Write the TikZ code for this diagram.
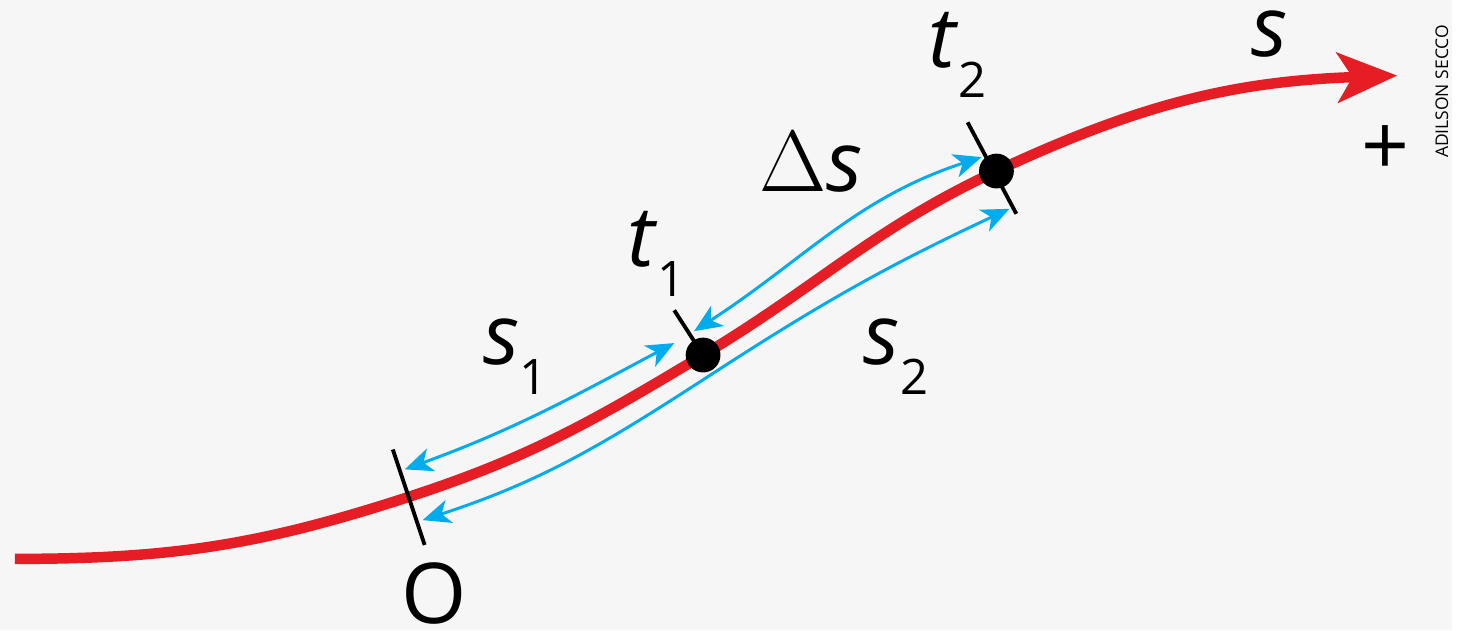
\documentclass[tikz,border=0pt]{standalone}
\usepackage{fontspec}
\setmainfont{Open Sans}
\usepackage{tikz}
\usetikzlibrary{arrows.meta}

\definecolor{pathred}{RGB}{231,29,37}
\definecolor{spanblue}{RGB}{0,172,236}
\definecolor{paper}{RGB}{246,246,246}

\newcommand{\withsub}[2]{\textit{#1}\raisebox{-0.3cm}{\fontsize{14}{14}\selectfont #2}}

\begin{document}
\begin{tikzpicture}[
  font=\fontsize{24}{28}\selectfont,
  trajectory/.style={
    draw=pathred,
    line width=3pt,
    -{Stealth[length=6mm, width=5mm, inset=1.5mm]}
  },
  span/.style={
    draw=spanblue,
    line width=0.85pt,
    {Stealth[length=2.8mm, width=2.4mm, inset=0.8mm]}-{Stealth[length=2.8mm, width=2.4mm, inset=0.8mm]}
  },
  tickmark/.style={
    draw=black,
    line width=1.1pt
  },
  dot/.style={
    circle,
    fill=black,
    inner sep=0pt,
    minimum size=0.35cm
  },
  lbl/.style={
    inner sep=0pt,
    anchor=base west
  }
]

% Background
\fill[paper] (0,0) rectangle (14.6,6.34);

% Points on the path
\coordinate (start) at (0.15,0.72);
\coordinate (O) at (4.10,1.34);
\coordinate (t1) at (7.07,2.77);
\coordinate (t2) at (10.02,4.62);
\coordinate (end) at (14.05,5.58);

% Tick marks
\coordinate (Otop) at (3.95,1.82);
\coordinate (Obot) at (4.27,0.86);
\coordinate (t1top) at (6.78,3.22);
\coordinate (t2top) at (9.73,5.11);
\coordinate (t2bot) at (10.22,4.19);

\draw[tickmark] (t1top) -- (t1);
\draw[tickmark] (t2top) -- (t2bot);

% Trajectory
\draw[trajectory] (start) to[out=0,in=198] (O) to[out=18,in=211] (t1)
  to[out=31,in=205] (t2) to[out=25,in=182] (end);

\draw[tickmark] (Otop) -- (Obot);

% Span arrows
\coordinate (s1a) at (4.07,1.62);
\coordinate (s1b) at (6.78,2.89);
\coordinate (dsa) at (6.98,3.01);
\coordinate (dsb) at (9.87,4.76);
\coordinate (s2a) at (4.25,1.11);
\coordinate (s2m) at (7.13,2.56);
\coordinate (s2b) at (10.15,4.24);

\draw[span] (s1a) to[out=20,in=208] (s1b);
\draw[span] (dsa) to[out=33,in=198] (dsb);
\draw[span] (s2a) to[out=18,in=213] (s2m) to[out=33,in=205] (s2b);

% Instants
\node[dot] (t1dot) at (t1) {};
\node[dot] (t2dot) at (t2) {};

% Labels
\node[inner sep=0pt] (Olbl) at (4.37,0.37) {O};
\node[lbl] (s1lbl) at (4.85,2.67) {\withsub{s}{1}};
\node[lbl] (t1lbl) at (6.30,3.66) {\withsub{t}{1}};
\node[lbl] (dslbl) at (7.63,4.41) {$\Delta$\textit{s}};
\node[lbl] (s2lbl) at (8.68,2.67) {\withsub{s}{2}};
\node[lbl] (t2lbl) at (9.33,5.66) {\withsub{t}{2}};
\node[lbl] (slbl) at (12.58,5.77) {\textit{s}};
\node (plus) at (13.93,4.83) {+};

% Credit
\node[rotate=90, font=\fontsize{5}{6}\selectfont] (credit) at (14.50,5.42) {ADILSON SECCO};

\end{tikzpicture}
\end{document}
